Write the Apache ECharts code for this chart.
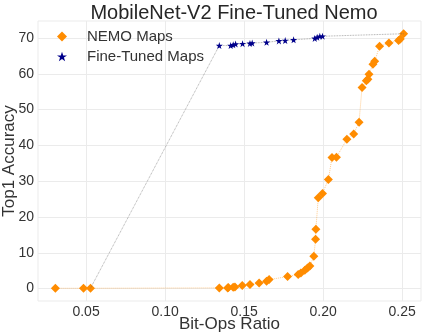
<!DOCTYPE html>
<html>
<head>
<meta charset="utf-8">
<script src="https://cdn.jsdelivr.net/npm/echarts@6/dist/echarts.min.js"></script>
<style>html,body{margin:0;padding:0;background:#fff}#c{width:423px;height:336px}</style>
</head>
<body>
<div id="c"></div>
<script>
const titleText = "MobileNet-V2 Fine-Tuned Nemo";
const xName = "Bit-Ops Ratio";
const yName = "Top1 Accuracy";
const seriesNames = ["NEMO Maps", "Fine-Tuned Maps"];

const nemoX = [0.0306, 0.0484, 0.0528, 0.1343, 0.1396, 0.1400, 0.1431, 0.1442, 0.1488, 0.1537, 0.1595, 0.1642, 0.1658, 0.1775, 0.1842, 0.1859, 0.1884, 0.1901, 0.1916, 0.1941, 0.1952, 0.1954, 0.1969, 0.1996, 0.2033, 0.2056, 0.2084, 0.2150, 0.2193, 0.2227, 0.2246, 0.2273, 0.2283, 0.2290, 0.2315, 0.2326, 0.2357, 0.2416, 0.2477, 0.2488, 0.2509];
const nemoY = [0.1, 0.1, 0.1, 0.2, 0.2, 0.28, 0.36, 0.45, 0.84, 1.12, 1.57, 2.04, 2.52, 3.36, 3.92, 4.37, 5.13, 5.77, 6.33, 9.04, 13.8, 16.6, 25.4, 26.6, 30.5, 36.6, 36.7, 41.7, 43.2, 46.5, 56.2, 58.1, 58.5, 59.9, 62.7, 63.5, 67.7, 68.6, 69.3, 69.7, 71.2];

const ftX = [0.1343, 0.1415, 0.1431, 0.1446, 0.1490, 0.1537, 0.1551, 0.1642, 0.1720, 0.1760, 0.1813, 0.1947, 0.1962, 0.1979, 0.1996];
const ftY = [67.9, 67.9, 68.1, 68.3, 68.4, 68.5, 68.6, 68.8, 69.2, 69.3, 69.5, 69.9, 70.2, 70.5, 70.5];

const xTicks = [0.05, 0.10, 0.15, 0.20, 0.25];
const yTicks = [0, 10, 20, 30, 40, 50, 60, 70];

const starPath = 'path://M50,0 L61.8,35.3 L98.9,35.3 L68.9,57.1 L80.4,92.4 L50,70.6 L19.6,92.4 L31.1,57.1 L1.1,35.3 L38.2,35.3 Z';
const orange = '#ff8c00';
const navy = '#00008b';
const font = 'Liberation Sans, Arial, sans-serif';
const txt = '#333333';
const gridCol = '#ebebeb';

const nemoData = nemoX.map((x, i) => [x, nemoY[i]]);
const startIdx = 2, endIdx = nemoX.length - 1;
const ftData = [{value: [nemoX[startIdx], nemoY[startIdx]], symbol: 'none'}]
  .concat(ftX.map((x, i) => [x, ftY[i]]))
  .concat([{value: [nemoX[endIdx], nemoY[endIdx]], symbol: 'none'}]);

const chart = echarts.init(document.getElementById('c'), null, {renderer: 'canvas'});
chart.setOption({
  animation: false,
  backgroundColor: '#fff',
  textStyle: {fontFamily: font},
  title: {
    text: titleText, left: 229, textAlign: 'center', top: -2,
    textStyle: {fontFamily: font, fontSize: 20, fontWeight: 'normal', color: '#262626'}
  },
  grid: {left: 38, right: 2, top: 21, bottom: 35, show: true, borderColor: gridCol, borderWidth: 1,
         outerBoundsMode: 'none', containLabel: false},
  legend: {
    orient: 'vertical', left: 52, top: 24, itemGap: 5, itemWidth: 10, itemHeight: 10,
    textStyle: {fontFamily: font, fontSize: 15, color: txt, lineHeight: 15, padding: [0, 0, 0, 15]},
    data: [{name: seriesNames[0], icon: 'diamond'}, {name: seriesNames[1], icon: starPath}]
  },
  xAxis: {
    type: 'value', min: 0.0196, max: 0.2619,
    name: xName, nameLocation: 'middle', nameGap: 15, nameMoveOverlap: false,
    nameTextStyle: {fontFamily: font, fontSize: 17, color: txt},
    axisLine: {show: false},
    axisTick: {show: false, customValues: xTicks},
    axisLabel: {customValues: xTicks, formatter: v => v.toFixed(2), fontFamily: font, fontSize: 14, color: txt, margin: 4},
    splitLine: {show: true, lineStyle: {color: gridCol, width: 1}}
  },
  yAxis: {
    type: 'value', min: -3.46, max: 74.76,
    name: yName, nameLocation: 'middle', nameGap: 20, nameMoveOverlap: false,
    nameTextStyle: {fontFamily: font, fontSize: 17, color: txt},
    axisLine: {show: false},
    axisTick: {show: false, customValues: yTicks},
    axisLabel: {customValues: yTicks, fontFamily: font, fontSize: 14, color: txt, margin: 4},
    splitLine: {show: true, lineStyle: {color: gridCol, width: 1}}
  },
  series: [
    {
      name: seriesNames[0], type: 'line', data: nemoData,
      symbol: 'diamond', symbolSize: 9,
      itemStyle: {color: orange},
      lineStyle: {color: 'rgba(255,140,0,0.45)', width: 1, type: 'dotted'},
      z: 2
    },
    {
      name: seriesNames[1], type: 'line', data: ftData,
      symbol: starPath, symbolSize: 7,
      itemStyle: {color: navy},
      lineStyle: {color: 'rgba(100,100,100,0.7)', width: 0.8, type: 'dotted'},
      z: 3
    }
  ]
});
</script>
</body>
</html>
